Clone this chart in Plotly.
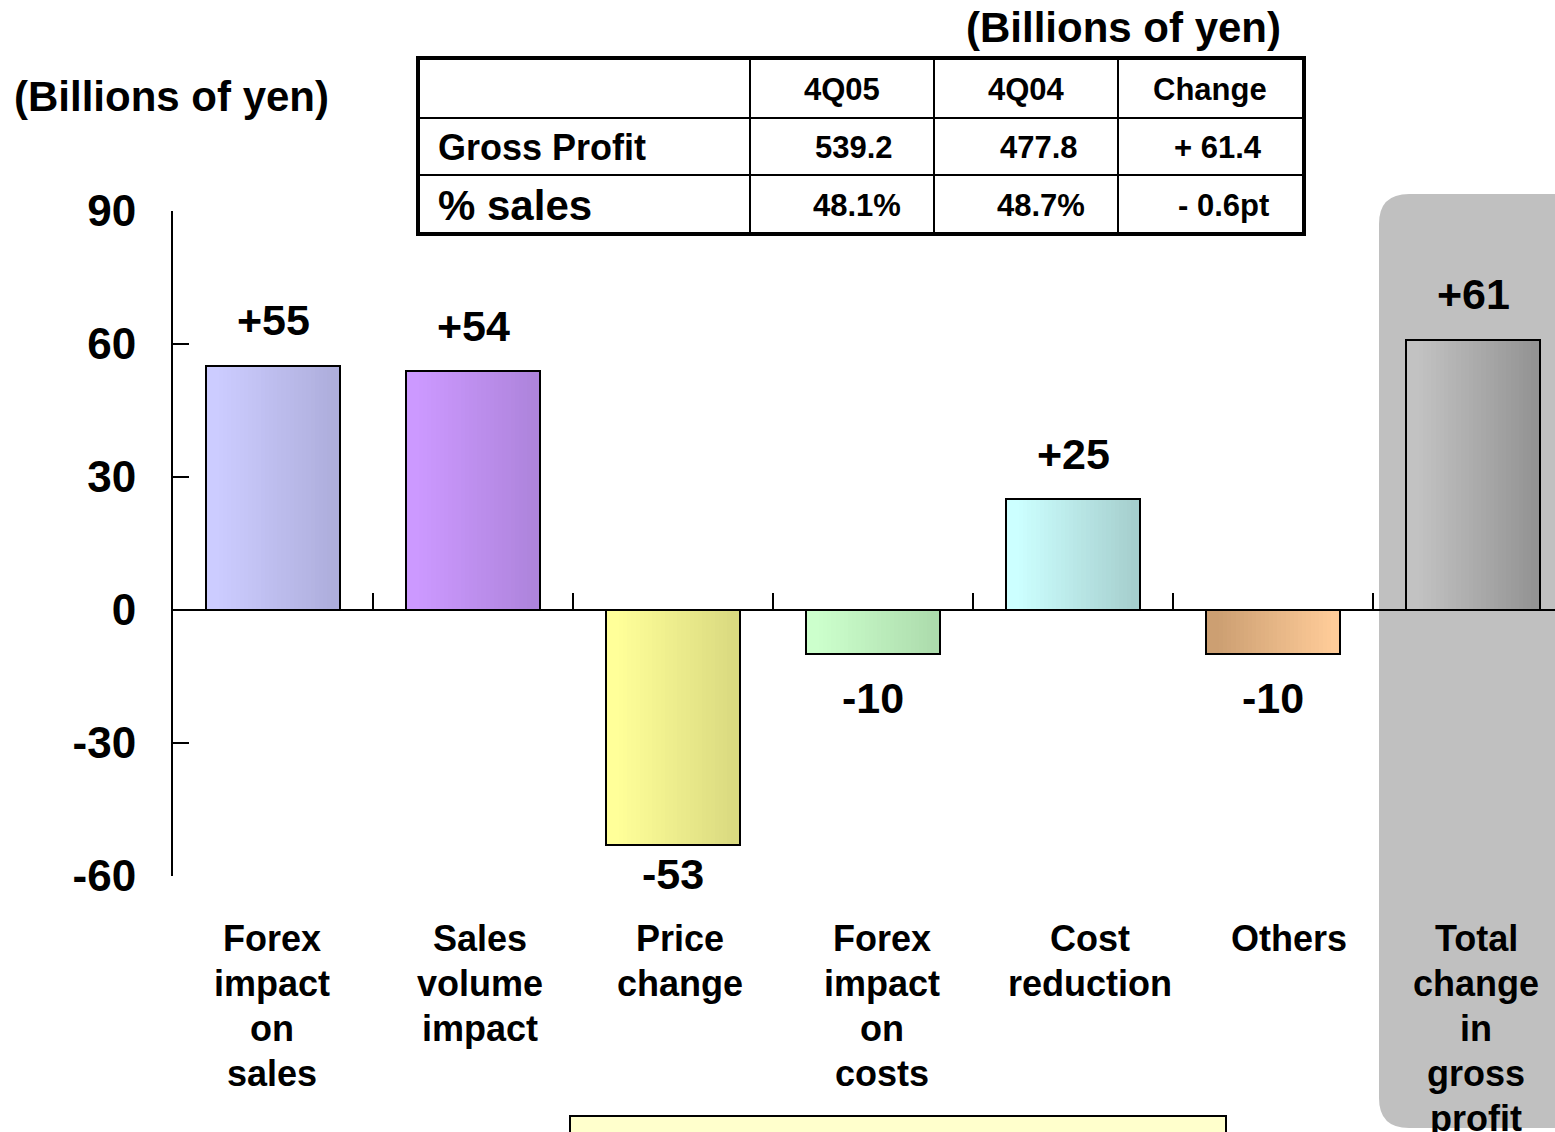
import plotly.graph_objects as go

# ---- data -------------------------------------------------------------
categories = [
    "Forex<br>impact<br>on<br>sales",
    "Sales<br>volume<br>impact",
    "Price<br>change",
    "Forex<br>impact<br>on<br>costs",
    "Cost<br>reduction",
    "Others",
    "Total<br>change<br>in<br>gross<br>profit",
]
values = [55, 54, -53, -10, 25, -10, 61]

y_ticks = [-60, -30, 0, 30, 60, 90]
y_tick_text = ["-60", "-30", "0", "30", "60", "90"]

table_header = ["4Q05", "4Q04", "Change"]
table_row_names = ["Gross Profit", "% sales"]
gross_profit = ["539.2", "477.8", "+ 61.4"]
pct_sales = ["48.1%", "48.7%", "- 0.6pt"]

unit_label = "(Billions of yen)"

# ---- styling ------------------------------------------------------------
left_colors = ["#CCCCFF", "#CC99FF", "#FFFF99", "#CCFFCC", "#CCFFFF", "#CC9F72", "#C2C2C2"]
right_colors = ["#AEAEDC", "#AE84DC", "#DADA80", "#ADDCAD", "#A6CFCE", "#FFCC99", "#949494"]
label_nudge = [-1, 7, 7, 9, 17, 16, 3]          # px shift of category labels
value_offset = [46, 45, -29, -44, 45, -44, 46]   # px offset of value labels

FONT = "Liberation Sans, Arial, sans-serif"
W, H = 1555, 1132
L, T, B = 173, 211, 256
PLOT_H = H - T - B
CAT_PX = 200.0
BAR_W = 2 / 3
x_max = -0.5 + (W - L) / CAT_PX
LINE_GAP = 45


def px(xp):
    return (xp - L) / (W - L)


def py(yp):
    return (H - B - yp) / PLOT_H


def hex_rgb(h):
    h = h.lstrip("#")
    return tuple(int(h[i:i + 2], 16) for i in (0, 2, 4))


def mix(c1, c2, t):
    a, b = hex_rgb(c1), hex_rgb(c2)
    return "rgb({},{},{})".format(*[round(a[i] + (b[i] - a[i]) * t) for i in range(3)])


xs = list(range(len(values)))
fig = go.Figure()

# horizontal gradient fill: thin vertical strips per bar
N = 32
strip = BAR_W / N
for k in range(N):
    t = min(1.0, max(0.0, (k + 0.5) / N * 1.15 - 0.1))
    fig.add_trace(go.Bar(
        x=xs, y=values,
        width=strip * 1.15,
        offset=-BAR_W / 2 + k * strip,
        marker=dict(color=[mix(l, r, t) for l, r in zip(left_colors, right_colors)],
                    line=dict(width=0)),
        hoverinfo="skip", showlegend=False,
    ))

# bar outlines
fig.add_trace(go.Bar(
    x=xs, y=values, width=BAR_W,
    marker=dict(color="rgba(0,0,0,0)", line=dict(color="black", width=2)),
    hoverinfo="skip", showlegend=False,
))

annotations = []

# value labels
for i, v in enumerate(values):
    annotations.append(dict(
        x=i, y=v, xref="x", yref="y", text=f"{v:+d}", showarrow=False,
        yshift=value_offset[i], xanchor="center", yanchor="middle",
        font=dict(family=FONT, size=43, color="black", weight="bold"),
    ))

# category labels, one annotation per line for tight line spacing
for i, c in enumerate(categories):
    for k, line in enumerate(c.split("<br>")):
        annotations.append(dict(
            x=i, y=py(938 + LINE_GAP * k), xref="x", yref="paper", text=line,
            showarrow=False, xshift=label_nudge[i], xanchor="center", yanchor="middle",
            font=dict(family=FONT, size=36, color="black", weight="bold"),
        ))

# unit labels
annotations.append(dict(
    x=px(12), y=py(97), xref="paper", yref="paper", text=unit_label,
    showarrow=False, xanchor="left", yanchor="middle",
    font=dict(family=FONT, size=42, color="black", weight="bold"),
))
annotations.append(dict(
    x=px(1123), y=py(28), xref="paper", yref="paper", text=unit_label,
    showarrow=False, xanchor="center", yanchor="middle",
    font=dict(family=FONT, size=42, color="black", weight="bold"),
))

# summary table text
col_x = [842, 1026, 1210]
for j, h in enumerate(table_header):
    annotations.append(dict(
        x=px(col_x[j]), y=py(90), xref="paper", yref="paper", text=h,
        showarrow=False, xanchor="center", yanchor="middle",
        font=dict(family=FONT, size=31, color="black", weight="bold"),
    ))
row_y = [147, 205]
row_font = [36, 42]
cell_x = [[854, 1039, 1218], [857, 1041, 1223]]
for r, (name, cells) in enumerate(zip(table_row_names, [gross_profit, pct_sales])):
    annotations.append(dict(
        x=px(436), y=py(row_y[r]), xref="paper", yref="paper", text=name,
        showarrow=False, xanchor="left", yanchor="middle",
        font=dict(family=FONT, size=row_font[r], color="black", weight="bold"),
    ))
    for j, cell in enumerate(cells):
        annotations.append(dict(
            x=px(cell_x[r][j]), y=py(row_y[r]), xref="paper", yref="paper", text=cell,
            showarrow=False, xanchor="center", yanchor="middle",
            font=dict(family=FONT, size=31, color="black", weight="bold"),
        ))

shapes = []

# rounded grey panel behind the total bar
gx0, gx1, gy0, gy1, rad = 1379, 1640, 194, 1128, 30
rx, ry = rad / (W - L), rad / PLOT_H
shapes.append(dict(
    type="path", xref="paper", yref="paper", layer="below",
    path=(f"M {px(gx0)},{py(gy0) - ry} "
          f"Q {px(gx0)},{py(gy0)} {px(gx0) + rx},{py(gy0)} "
          f"L {px(gx1) - rx},{py(gy0)} "
          f"Q {px(gx1)},{py(gy0)} {px(gx1)},{py(gy0) - ry} "
          f"L {px(gx1)},{py(gy1) + ry} "
          f"Q {px(gx1)},{py(gy1)} {px(gx1) - rx},{py(gy1)} "
          f"L {px(gx0) + rx},{py(gy1)} "
          f"Q {px(gx0)},{py(gy1)} {px(gx0)},{py(gy1) + ry} Z"),
    fillcolor="#C0C0C0", line=dict(width=0),
))

# pale yellow box at the bottom
shapes.append(dict(
    type="rect", xref="paper", yref="paper", layer="above",
    x0=px(570), x1=px(1226), y0=py(1116), y1=py(1160),
    fillcolor="#FFFFCC", line=dict(color="black", width=2),
))

# summary table grid
for yy in (118, 175):
    shapes.append(dict(type="line", xref="paper", yref="paper",
                       x0=px(418), x1=px(1304), y0=py(yy), y1=py(yy),
                       line=dict(color="black", width=2)))
for xx in (750, 934, 1118):
    shapes.append(dict(type="line", xref="paper", yref="paper",
                       x0=px(xx), x1=px(xx), y0=py(58), y1=py(234),
                       line=dict(color="black", width=2)))
shapes.append(dict(type="rect", xref="paper", yref="paper",
                   x0=px(418), x1=px(1304), y0=py(58), y1=py(234),
                   line=dict(color="black", width=4), fillcolor="rgba(0,0,0,0)"))

fig.update_layout(
    width=W, height=H,
    margin=dict(l=L, r=0, t=T, b=B, pad=0),
    paper_bgcolor="white", plot_bgcolor="rgba(0,0,0,0)",
    barmode="overlay", bargap=0,
    showlegend=False,
    annotations=annotations, shapes=shapes,
    xaxis=dict(
        range=[-0.5, x_max], anchor="free", position=(0 - (-60)) / 150,
        showgrid=False, zeroline=False, showline=True, linecolor="black", linewidth=2,
        tickmode="array", tickvals=[i + 0.5 for i in range(6)],
        ticks="inside", ticklen=16, tickwidth=2, tickcolor="black",
        showticklabels=False, fixedrange=True,
    ),
    yaxis=dict(
        range=[-60, 90], showgrid=False, zeroline=False,
        showline=True, linecolor="black", linewidth=2,
        tickmode="array", tickvals=y_ticks, ticktext=y_tick_text,
        ticks="inside", ticklen=16, tickwidth=2, tickcolor="black",
        tickfont=dict(family=FONT, size=44, color="black", weight="bold"),
        ticklabelstandoff=26, fixedrange=True,
    ),
)

fig.write_html("out.html", config={"displayModeBar": False})
